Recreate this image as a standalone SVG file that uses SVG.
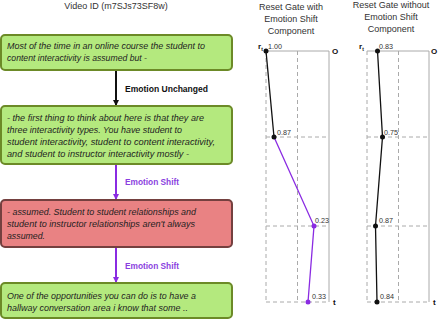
<svg xmlns="http://www.w3.org/2000/svg" width="438" height="320" viewBox="0 0 438 320">
<style>
.box-g{fill:#b4e97e;stroke:#6c8a27;stroke-width:2}
.box-r{fill:#e98283;stroke:#74403f;stroke-width:2}
.bt{font-family:"Liberation Sans",Arial,sans-serif;font-style:italic;font-size:8.8px;fill:#1e1e1e}
.lbl{font-family:"Liberation Sans",Arial,sans-serif;font-weight:bold;font-size:8.6px}
.ttl{font-family:"Liberation Sans",Arial,sans-serif;font-size:9px;fill:#333;text-anchor:middle}
.val{font-family:"Liberation Sans",Arial,sans-serif;font-size:7.2px;fill:#333}
.ax{font-family:"Liberation Sans",Arial,sans-serif;font-weight:bold;font-size:8px;fill:#111}
.grid{stroke:#aaa;stroke-width:1;stroke-dasharray:4,3;fill:none}
.frame{stroke:#aaa;stroke-width:1;fill:none}
</style>
<defs>
<marker id="ab" markerWidth="6" markerHeight="6" refX="5" refY="3" orient="auto" markerUnits="userSpaceOnUse"><path d="M0,0 L6,3 L0,6 Z" fill="#111"/></marker>
<marker id="ap" markerWidth="6" markerHeight="6" refX="5" refY="3" orient="auto" markerUnits="userSpaceOnUse"><path d="M0,0 L6,3 L0,6 Z" fill="#8a2be2"/></marker>
</defs>
<text class="ttl" x="116" y="9" font-size="9.2">Video ID (m7SJs73SF8w)</text>

<g id="connectors">
<line x1="116" y1="71" x2="116" y2="105" stroke="#111" stroke-width="2" marker-end="url(#ab)"/>
<text class="lbl" x="125" y="92" fill="#111" textLength="83" lengthAdjust="spacingAndGlyphs">Emotion Unchanged</text>
<line x1="116" y1="165" x2="116" y2="199" stroke="#8a2be2" stroke-width="2" marker-end="url(#ap)"/>
<text class="lbl" x="125" y="185" fill="#8a3fe0" textLength="54" lengthAdjust="spacingAndGlyphs">Emotion Shift</text>
<line x1="116" y1="248" x2="116" y2="282" stroke="#8a2be2" stroke-width="2" marker-end="url(#ap)"/>
<text class="lbl" x="125" y="269" fill="#8a3fe0" textLength="54" lengthAdjust="spacingAndGlyphs">Emotion Shift</text>
</g>

<g id="node1">
<rect class="box-g" x="1" y="35" width="231" height="35" rx="4"/>
<text class="bt" x="7" y="49" textLength="198" lengthAdjust="spacingAndGlyphs">Most of the time in an online course the student to</text>
<text class="bt" x="7" y="61" textLength="140" lengthAdjust="spacingAndGlyphs">content interactivity is assumed but -</text>
</g>
<g id="node2">
<rect class="box-g" x="1" y="106" width="231" height="58" rx="4"/>
<text class="bt" x="7" y="121" textLength="197" lengthAdjust="spacingAndGlyphs">- the first thing to think about here is that they are</text>
<text class="bt" x="7" y="133" textLength="175" lengthAdjust="spacingAndGlyphs">three interactivity types. You have student to</text>
<text class="bt" x="7" y="145" textLength="208" lengthAdjust="spacingAndGlyphs">student interactivity, student to content interactivity,</text>
<text class="bt" x="7" y="157" textLength="182" lengthAdjust="spacingAndGlyphs">and student to instructor interactivity mostly -</text>
</g>
<g id="node3">
<rect class="box-r" x="1" y="200" width="231" height="47" rx="4"/>
<text class="bt" x="7" y="215" textLength="189" lengthAdjust="spacingAndGlyphs">- assumed. Student to student relationships and</text>
<text class="bt" x="7" y="227" textLength="188" lengthAdjust="spacingAndGlyphs">student to instructor relationships aren't always</text>
<text class="bt" x="7" y="239" textLength="38" lengthAdjust="spacingAndGlyphs">assumed.</text>
</g>
<g id="node4">
<rect class="box-g" x="1" y="283" width="231" height="35" rx="4"/>
<text class="bt" x="7" y="299" textLength="189" lengthAdjust="spacingAndGlyphs">One of the opportunities you can do is to have a</text>
<text class="bt" x="7" y="311" textLength="181" lengthAdjust="spacingAndGlyphs">hallway conversation area i know that some ..</text>
</g>

<g id="chart1">
<text class="ttl" x="291" y="10">Reset Gate with</text>
<text class="ttl" x="291" y="22">Emotion Shift</text>
<text class="ttl" x="291" y="34">Component</text>
<line class="grid" x1="266" y1="51" x2="266" y2="302"/>
<line class="grid" x1="297.5" y1="51" x2="297.5" y2="302"/>
<line class="grid" x1="266" y1="137" x2="329" y2="137"/>
<line class="grid" x1="266" y1="226" x2="329" y2="226"/>
<line class="grid" x1="266" y1="302" x2="329" y2="302"/>
<line class="frame" x1="266" y1="51" x2="329" y2="51"/>
<line class="frame" x1="329" y1="51" x2="329" y2="302"/>
<text class="ax" x="258" y="49">r<tspan font-size="5" dy="1.5">t</tspan></text>
<text class="ax" x="332" y="54">O</text>
<text class="ax" x="333" y="305">t</text>
<polyline points="266,51 274,137" fill="none" stroke="#111" stroke-width="1.3"/>
<polyline points="274,137 314,226 308,302" fill="none" stroke="#8a2be2" stroke-width="1.3"/>
<circle cx="266" cy="51" r="2.5" fill="#111"/>
<circle cx="274" cy="137" r="2.5" fill="#111"/>
<circle cx="314" cy="226" r="2.5" fill="#8a2be2"/>
<circle cx="308" cy="302" r="2.5" fill="#8a2be2"/>
<text class="val" x="268" y="49">1.00</text>
<text class="val" x="277" y="135">0.87</text>
<text class="val" x="315" y="223">0.23</text>
<text class="val" x="312" y="299">0.33</text>
</g>

<g id="chart2">
<text class="ttl" x="391" y="8">Reset Gate without</text>
<text class="ttl" x="391" y="20">Emotion Shift</text>
<text class="ttl" x="391" y="32">Component</text>
<line class="grid" x1="367" y1="51" x2="367" y2="302"/>
<line class="grid" x1="398.5" y1="51" x2="398.5" y2="302"/>
<line class="grid" x1="367" y1="137" x2="429" y2="137"/>
<line class="grid" x1="367" y1="226" x2="429" y2="226"/>
<line class="grid" x1="367" y1="302" x2="429" y2="302"/>
<line class="frame" x1="367" y1="51" x2="429" y2="51"/>
<line class="frame" x1="429" y1="51" x2="429" y2="302"/>
<text class="ax" x="359" y="49">r<tspan font-size="5" dy="1.5">t</tspan></text>
<text class="ax" x="431" y="54">O</text>
<text class="ax" x="433" y="305">t</text>
<polyline points="377.5,51 382.5,137 375.5,226 377,302" fill="none" stroke="#111" stroke-width="1.3"/>
<circle cx="377.5" cy="51" r="2.5" fill="#111"/>
<circle cx="382.5" cy="137" r="2.5" fill="#111"/>
<circle cx="375.5" cy="226" r="2.5" fill="#111"/>
<circle cx="377" cy="302" r="2.5" fill="#111"/>
<text class="val" x="379" y="49">0.83</text>
<text class="val" x="384" y="135">0.75</text>
<text class="val" x="379" y="223">0.87</text>
<text class="val" x="380" y="299">0.84</text>
</g>
</svg>
